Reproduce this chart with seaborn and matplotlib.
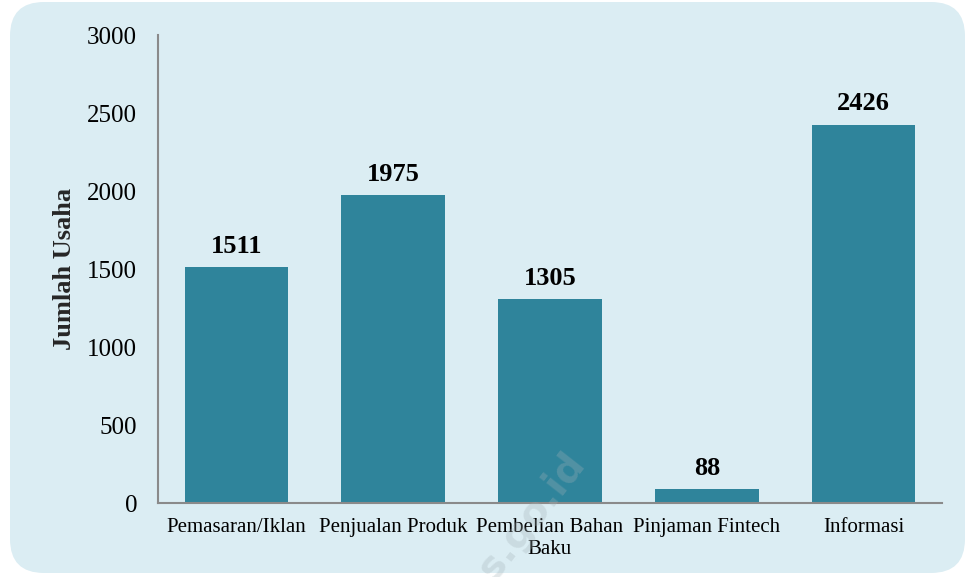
import matplotlib
matplotlib.use("Agg")
import matplotlib.pyplot as plt
from matplotlib.patches import FancyBboxPatch
import pandas as pd
import seaborn as sns

# Data
categories = ["Pemasaran/Iklan", "Penjualan Produk", "Pembelian Bahan\nBaku",
              "Pinjaman Fintech", "Informasi"]
values = [1511, 1975, 1305, 88, 2426]

BAR_COLOR = "#2f849b"
BG_COLOR = "#dbedf3"

sns.set_theme(style="white")
plt.rcParams["font.family"] = ["Liberation Serif", "DejaVu Serif"]

df = pd.DataFrame({"kategori": categories, "jumlah": values})

fig = plt.figure(figsize=(9.7, 5.77), dpi=100)
fig.patch.set_facecolor("white")

# rounded background panel
bg = FancyBboxPatch((10 / 970, 4 / 577), 955 / 970, 571 / 577,
                    boxstyle="round,pad=0,rounding_size=0.035",
                    transform=fig.transFigure, facecolor=BG_COLOR,
                    edgecolor="none", zorder=-5, mutation_aspect=970 / 577)
fig.patches.append(bg)

ax = fig.add_axes([158 / 970, 1 - 503 / 577, 784 / 970, 468 / 577])
ax.set_facecolor("none")
ax.set_zorder(2)

sns.barplot(data=df, x="kategori", y="jumlah", color=BAR_COLOR,
            width=0.66, saturation=1, linewidth=0, ax=ax)

for i, v in enumerate(values):
    ax.text(i, v + 60, str(v), ha="center", va="bottom",
            fontsize=19, fontweight="bold", color="black")

ax.set_xlim(-0.5, 4.5)
ax.set_ylim(0, 3000)
ax.set_yticks([0, 500, 1000, 1500, 2000, 2500, 3000])
ax.tick_params(axis="y", labelsize=18, length=0, pad=15, colors="black")
ax.tick_params(axis="x", labelsize=15, length=0, pad=11, colors="black")
for lbl in ax.get_xticklabels():
    lbl.set_linespacing(1.2)
ax.set_xlabel("")
ax.set_ylabel("Jumlah Usaha", fontsize=19, fontweight="bold", labelpad=8)

for s in ["top", "right"]:
    ax.spines[s].set_visible(False)
for s in ["left", "bottom"]:
    ax.spines[s].set_color("#8a8a8a")
    ax.spines[s].set_linewidth(1.5)

# faint watermark (only the visible part of it)
fig.text(532 / 970, 1 - 516 / 577, "s.go.id", rotation=52,
         fontsize=28, fontweight="bold", color="#a4b3b8", alpha=0.3,
         ha="center", va="center", family="DejaVu Sans", zorder=10)

fig.savefig("out.png", dpi=100, facecolor=fig.get_facecolor())
